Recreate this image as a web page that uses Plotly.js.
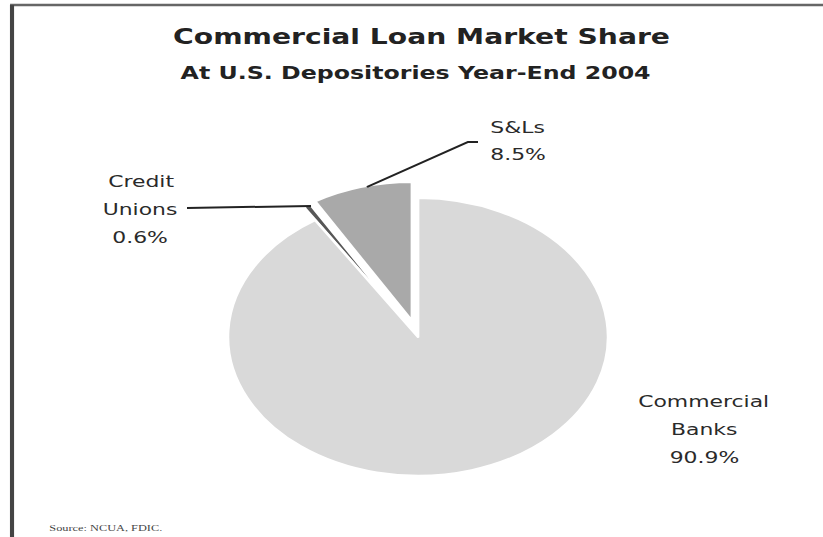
<!DOCTYPE html>
<html>
<head>
<meta charset="utf-8">
<script src="https://cdn.plot.ly/plotly-3.0.1.min.js"></script>
<style>
  html, body { margin: 0; padding: 0; background: #ffffff; overflow: hidden; }
  #wrap { width: 823px; height: 537px; overflow: hidden; }
  #chart { width: 601px; height: 537px; transform: scaleX(1.3694); transform-origin: 0 0; }
</style>
</head>
<body>
<div id="wrap"><div id="chart"></div></div>
<script>
// ---- data ----
var categories = ['S&Ls', 'Credit Unions', 'Commercial Banks'];
var shares = [8.5, 0.6, 90.9];           // percent of commercial loans
var sliceColors = ['#a9a9a9', '#575757', '#d9d9d9'];
var pulls = [0.12, 0.11, 0];
var chartTitle = 'Commercial Loan Market Share';
var chartSubtitle = 'At U.S. Depositories Year-End 2004';
var sourceNote = 'Source: NCUA, FDIC.';

// label placement (paper fractions) for each category: [x, firstLineY, xanchor]
var labelPos = [
  [0.5917, 0.7635, 'left'],
  [0.1713, 0.6611, 'center'],
  [0.856, 0.2514, 'center']
];
var lineStep = 0.0515;

function esc(s) { return s.replace(/&/g, '&amp;'); }

var annotations = [];
categories.forEach(function (cat, i) {
  var lines = cat.split(' ').concat([shares[i].toFixed(1) + '%']);
  lines.forEach(function (ln, j) {
    annotations.push({
      xref: 'paper', yref: 'paper',
      x: labelPos[i][0], y: labelPos[i][1] - j * lineStep,
      xanchor: labelPos[i][2], yanchor: 'middle',
      text: esc(ln), showarrow: false,
      font: { family: 'DejaVu Sans', size: 16, color: '#2a2a2a' }
    });
  });
});

annotations.push({
  xref: 'paper', yref: 'paper', x: 0.5043, y: 0.864,
  xanchor: 'center', yanchor: 'middle', showarrow: false,
  text: chartSubtitle,
  font: { family: 'DejaVu Sans', size: 17.3, weight: 'bold', color: '#222' }
});
annotations.push({
  xref: 'paper', yref: 'paper', x: 0.0571, y: 0.0168,
  xanchor: 'left', yanchor: 'middle', showarrow: false,
  text: sourceNote,
  font: { family: 'Liberation Serif', size: 9, color: '#444' }
});

var shapes = [
  // frame (top and left edges)
  { type: 'line', xref: 'paper', yref: 'paper', x0: 0.0122, x1: 1.0, y0: 0.9907, y1: 0.9907,
    line: { color: '#666', width: 2.5 } },
  { type: 'line', xref: 'paper', yref: 'paper', x0: 0.0146, x1: 0.0146, y0: 0.9907, y1: -0.01,
    line: { color: '#444', width: 3 } },
  // leader lines
  { type: 'path', xref: 'paper', yref: 'paper', path: 'M 0.2272,0.6127 L 0.3779,0.6164',
    line: { color: '#222', width: 2 } },
  { type: 'path', xref: 'paper', yref: 'paper',
    path: 'M 0.4459,0.6518 L 0.5687,0.7356 L 0.5808,0.7356',
    line: { color: '#222', width: 2 } }
];

var total = shares.reduce(function (a, b) { return a + b; }, 0);

var trace = {
  type: 'pie',
  labels: categories,
  values: shares,
  sort: false,
  direction: 'counterclockwise',
  // Plotly ends the first counterclockwise slice at the rotation angle;
  // shift so the S&L slice starts at 12 o'clock and sweeps to the left.
  rotation: -shares[0] / total * 360,
  pull: pulls,
  textinfo: 'none',
  hoverinfo: 'skip',
  marker: { colors: sliceColors, line: { color: '#ffffff', width: 2 } },
  domain: { x: [0.2492, 0.7666], y: [0.0814, 0.6638] },
  showlegend: false
};

var layout = {
  width: 601, height: 537, autosize: false,
  margin: { l: 0, r: 0, t: 0, b: 0 },
  paper_bgcolor: '#ffffff', plot_bgcolor: '#ffffff',
  showlegend: false,
  title: {
    text: chartTitle,
    x: 0.5122, xanchor: 'center', xref: 'paper',
    y: 0.931, yanchor: 'middle', yref: 'container',
    font: { family: 'DejaVu Sans', size: 20.6, weight: 'bold', color: '#222' }
  },
  annotations: annotations,
  shapes: shapes
};

Plotly.newPlot('chart', [trace], layout, { displayModeBar: false, staticPlot: true });
</script>
</body>
</html>
